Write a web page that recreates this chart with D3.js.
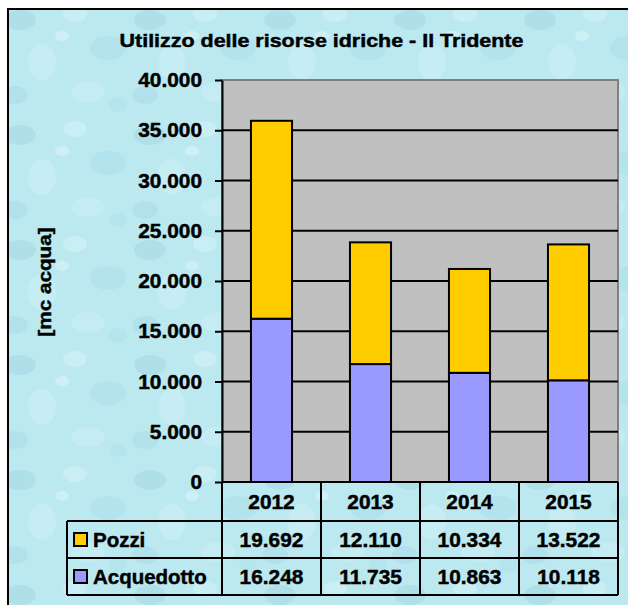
<!DOCTYPE html>
<html>
<head>
<meta charset="utf-8">
<script src="https://cdn.jsdelivr.net/npm/d3@7"></script>
<style>
  body { margin: 0; background: #fff; }
  text { font-family: "Liberation Sans", Arial, sans-serif; font-weight: bold; fill: #000; stroke: #000; stroke-width: 0.45px; }
</style>
</head>
<body>
<div id="canvas"></div>
<script>
const years = ["2012", "2013", "2014", "2015"];
const pozzi = [19692, 12110, 10334, 13522];
const acquedotto = [16248, 11735, 10863, 10118];
const seriesNames = ["Pozzi", "Acquedotto"];
const seriesColors = ["#FFCC00", "#9999FF"];
const yTicks = [0, 5000, 10000, 15000, 20000, 25000, 30000, 35000, 40000];
const title = "Utilizzo delle risorse idriche - Il Tridente";
const yTitle = "[mc acqua]";

const width = 628;
const height = 605;
const plot = { left: 222, top: 80, right: 618, bottom: 482 };
const rowH = [482, 521, 558, 595];
const tableLeft = 67;
const sx = 1.07;
const fs = 19.5;

const svg = d3.select("#canvas").append("svg")
  .attr("width", width)
  .attr("height", height);

// water-drop background, kept soft
const defs = svg.append("defs");
const pat = defs.append("pattern")
  .attr("id", "drops")
  .attr("patternUnits", "userSpaceOnUse")
  .attr("width", 130)
  .attr("height", 115);
pat.append("rect").attr("width", 130).attr("height", 115).attr("fill", "#bce8f0");
const drops = [
  [20, 20, 16, 10, "#a3d9e5"], [75, 14, 12, 8, "#d2f2f6"], [108, 48, 18, 12, "#aadde8"],
  [42, 62, 14, 18, "#ccf0f5"], [15, 95, 13, 9, "#a8dbe6"], [88, 92, 17, 10, "#c9eff4"],
  [62, 36, 7, 5, "#dcf6f9"], [118, 105, 9, 7, "#addfe9"]
];
drops.forEach(d => {
  pat.append("ellipse").attr("cx", d[0]).attr("cy", d[1])
    .attr("rx", d[2]).attr("ry", d[3]).attr("fill", d[4]).attr("opacity", 0.55);
});

svg.append("rect")
  .attr("x", 8).attr("y", 9)
  .attr("width", width + 10).attr("height", height + 10)
  .attr("fill", "url(#drops)")
  .attr("stroke", "#000")
  .attr("stroke-width", 2);

const txt = (x, y, s, opts = {}) => {
  return svg.append("text")
    .attr("transform", `translate(${x},${y})${opts.rotate ? " rotate(" + opts.rotate + ")" : ""} scale(${opts.sx || sx},1)`)
    .attr("text-anchor", opts.anchor || "middle")
    .attr("font-size", opts.size || fs)
    .text(s);
};

// scales
const x = d3.scaleBand().domain(years).range([plot.left, plot.right]).padding(0);
const y = d3.scaleLinear().domain([0, 40000]).range([plot.bottom, plot.top]);
const barW = x.bandwidth() * 0.415;

// plot area
svg.append("rect")
  .attr("x", plot.left).attr("y", plot.top)
  .attr("width", plot.right - plot.left).attr("height", plot.bottom - plot.top)
  .attr("fill", "#C0C0C0")
  .attr("stroke", "#808080")
  .attr("stroke-width", 2);

// gridlines
svg.append("g").selectAll("line")
  .data(yTicks.filter(d => d > 0 && d < 40000))
  .join("line")
  .attr("x1", plot.left).attr("x2", plot.right)
  .attr("y1", d => y(d)).attr("y2", d => y(d))
  .attr("stroke", "#000").attr("stroke-width", 2);

// stacked bars
const stackData = years.map((yr, i) => ({ year: yr, Acquedotto: acquedotto[i], Pozzi: pozzi[i] }));
const stack = d3.stack().keys(["Acquedotto", "Pozzi"])(stackData);
const colorOf = { Acquedotto: seriesColors[1], Pozzi: seriesColors[0] };
svg.append("g").selectAll("g")
  .data(stack)
  .join("g")
  .attr("fill", d => colorOf[d.key])
  .selectAll("rect")
  .data(d => d)
  .join("rect")
  .attr("x", d => x(d.data.year) + (x.bandwidth() - barW) / 2)
  .attr("width", barW)
  .attr("y", d => y(d[1]))
  .attr("height", d => y(d[0]) - y(d[1]))
  .attr("stroke", "#000")
  .attr("stroke-width", 2);

// y axis
const yAxis = svg.append("g")
  .attr("transform", `translate(${plot.left},0)`)
  .call(d3.axisLeft(y).tickValues(yTicks).tickSize(7).tickSizeOuter(0).tickFormat(() => ""));
yAxis.select(".domain").attr("stroke", "#000").attr("stroke-width", 2);
yAxis.selectAll(".tick line").attr("stroke", "#000").attr("stroke-width", 2);

const fmt = d3.formatLocale({ decimal: ",", thousands: ".", grouping: [3], currency: ["", ""] }).format(",d");
yTicks.forEach(v => txt(202, y(v) + 7, fmt(v), { anchor: "end" }));

// bottom axis line
svg.append("line")
  .attr("x1", plot.left).attr("x2", plot.right)
  .attr("y1", plot.bottom).attr("y2", plot.bottom)
  .attr("stroke", "#000").attr("stroke-width", 2);

// data table
const tbl = svg.append("g").attr("stroke", "#000").attr("stroke-width", 2).attr("fill", "none");
years.concat(["end"]).forEach((yr, i) => {
  const xx = i < years.length ? x(yr) : plot.right;
  tbl.append("line").attr("x1", xx).attr("x2", xx).attr("y1", rowH[0]).attr("y2", rowH[3]);
});
tbl.append("line").attr("x1", tableLeft).attr("x2", tableLeft).attr("y1", rowH[1]).attr("y2", rowH[3]);
[1, 2, 3].forEach(r => {
  tbl.append("line").attr("x1", tableLeft).attr("x2", plot.right).attr("y1", rowH[r]).attr("y2", rowH[r]);
});

years.forEach(yr => txt(x(yr) + x.bandwidth() / 2, (rowH[0] + rowH[1]) / 2 + 7, yr));

const rows = [pozzi, acquedotto];
rows.forEach((vals, r) => {
  const mid = (rowH[r + 1] + rowH[r + 2]) / 2;
  svg.append("rect")
    .attr("x", 74).attr("y", mid - 6.5)
    .attr("width", 13).attr("height", 13)
    .attr("fill", seriesColors[r])
    .attr("stroke", "#000").attr("stroke-width", 2);
  txt(93, mid + 7, seriesNames[r], { anchor: "start", sx: 1.05 });
  vals.forEach((v, i) => txt(x(years[i]) + x.bandwidth() / 2, mid + 7, fmt(v)));
});

// titles
txt(321.5, 47, title, { size: 18.5, sx: 1.16 });
txt(51, 282, yTitle, { rotate: -90, size: 18.5, sx: 1.12 });
</script>
</body>
</html>
